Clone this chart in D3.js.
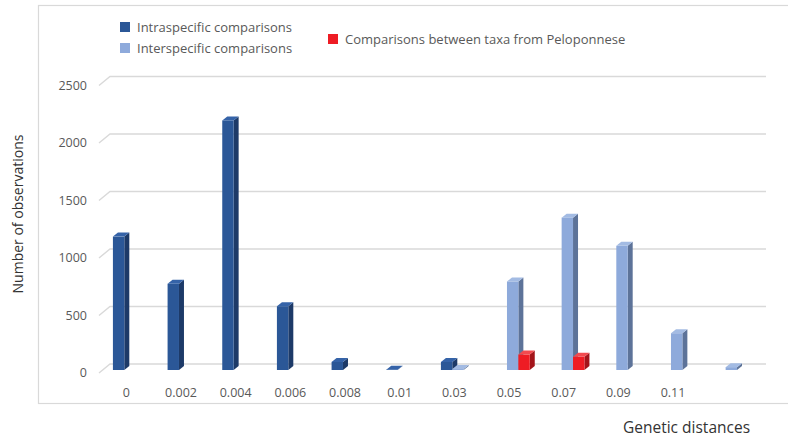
<!DOCTYPE html>
<html>
<head>
<meta charset="utf-8">
<script src="https://cdn.jsdelivr.net/npm/d3@7"></script>
<style>
  html, body { margin: 0; padding: 0; background: #ffffff; }
  svg { display: block; font-family: "Open Sans", "Noto Sans", sans-serif; }
</style>
</head>
<body>
<svg id="chart" width="788" height="438"></svg>
<script>
// Distance classes (last class has no printed label)
const categories = ["0", "0.002", "0.004", "0.006", "0.008", "0.01", "0.03", "0.05", "0.07", "0.09", "0.11", ""];
// Number of observations per class
const intraspecific = [1160, 750, 2170, 555, 70, 3, 70, 0, 0, 0, 0, 0];
const interspecific = [0, 0, 0, 0, 0, 0, 8, 770, 1325, 1080, 320, 25];
const peloponnese   = [0, 0, 0, 0, 0, 0, 0, 135, 115, 0, 0, 0];
const yTicks = [0, 500, 1000, 1500, 2000, 2500];

const seriesNames = ["Intraspecific comparisons", "Interspecific comparisons", "Comparisons between taxa from Peloponnese"];
const series = [
  { name: seriesNames[0], values: intraspecific, front: "#2b5797", side: "#1d3a68", top: "#3563a8" },
  { name: seriesNames[1], values: interspecific, front: "#8eaadb", side: "#5d7399", top: "#a3bbe3" },
  { name: seriesNames[2], values: peloponnese,   front: "#ee1c24", side: "#a3141a", top: "#f24a4f" }
];

const svg = d3.select("#chart");
const textColor = "#595959";
const gridColor = "#d9d9d9";

// Outer chart frame
svg.append("rect")
  .attr("x", 38.5).attr("y", 5.5)
  .attr("width", 800).attr("height", 398)
  .attr("fill", "none").attr("stroke", gridColor).attr("stroke-width", 1.2);

// Oblique projection: depth vector from the front plane to the back wall
const depth = { dx: 11, dy: -9 };
const barDepthFrac = 1 / 3;

// Front-plane scales
const x = d3.scaleBand().domain(d3.range(categories.length)).range([99, 755]).paddingInner(0).paddingOuter(0);
const y = d3.scaleLinear().domain([0, 2500]).range([373, 85.5]);

// Gridlines on the back wall, with the oblique side-wall segment
const grid = svg.append("g");
yTicks.forEach(t => {
  const y0 = y(t);
  grid.append("path")
    .attr("d", `M${x.range()[0]},${y0} L${x.range()[0] + depth.dx},${y0 + depth.dy} L${x.range()[1] + depth.dx},${y0 + depth.dy}`)
    .attr("fill", "none").attr("stroke", gridColor).attr("stroke-width", 1.4);
});

// Value axis labels
svg.append("g").selectAll("text").data(yTicks).join("text")
  .attr("x", 87).attr("y", d => y(d))
  .attr("dy", "0.35em")
  .attr("text-anchor", "end")
  .attr("font-size", 12.5)
  .attr("fill", textColor)
  .text(d => d);

// Category labels
svg.append("g").selectAll("text").data(categories).join("text")
  .attr("x", (d, i) => x(i) + x.bandwidth() / 2)
  .attr("y", 393)
  .attr("dy", "0.35em")
  .attr("text-anchor", "middle")
  .attr("font-size", 12.5)
  .attr("fill", textColor)
  .text(d => d);

// Bars: clustered, drawn at one third of the floor depth
const ox = depth.dx * barDepthFrac, oy = depth.dy * barDepthFrac;
const inner = d3.scaleBand().domain(d3.range(series.length)).range([0, x.bandwidth()]).paddingOuter(0.9).paddingInner(0);
const bw = inner.bandwidth();
const bd = { dx: 5, dy: -4 }; // visible bar depth

const barsG = svg.append("g");
categories.forEach((c, i) => {
  series.forEach((s, k) => {
    const v = s.values[i];
    if (!(v > 0)) return;
    const x0 = x(i) + inner(k) + ox;
    const x1 = x0 + bw;
    const yb = y(0) + oy;
    const yt = y(v) + oy;
    const g = barsG.append("g");
    // side face
    g.append("path")
      .attr("d", `M${x1},${yb} L${x1 + bd.dx},${yb + bd.dy} L${x1 + bd.dx},${yt + bd.dy} L${x1},${yt} Z`)
      .attr("fill", s.side);
    // front face
    g.append("rect")
      .attr("x", x0).attr("y", yt)
      .attr("width", bw).attr("height", Math.max(0, yb - yt))
      .attr("fill", s.front);
    // top face
    g.append("path")
      .attr("d", `M${x0},${yt} L${x0 + bd.dx},${yt + bd.dy} L${x1 + bd.dx},${yt + bd.dy} L${x1},${yt} Z`)
      .attr("fill", s.top);
  });
});

// Legend
const legendItems = [
  { s: series[0], x: 120, y: 27 },
  { s: series[1], x: 120, y: 48 },
  { s: series[2], x: 328, y: 39 }
];
const legend = svg.append("g");
legendItems.forEach(it => {
  legend.append("rect")
    .attr("x", it.x).attr("y", it.y - 5)
    .attr("width", 10).attr("height", 10)
    .attr("fill", it.s.front);
  legend.append("text")
    .attr("x", it.x + 17).attr("y", it.y)
    .attr("dy", "0.35em")
    .attr("font-size", 13)
    .attr("fill", textColor)
    .text(it.s.name);
});

// Axis titles
svg.append("text")
  .attr("transform", "translate(18,214) rotate(-90)")
  .attr("text-anchor", "middle")
  .attr("dy", "0.35em")
  .attr("font-size", 14)
  .attr("fill", "#333333")
  .text("Number of observations");

svg.append("text")
  .attr("x", 623).attr("y", 428)
  .attr("text-anchor", "start")
  .attr("dy", "0.35em")
  .attr("font-size", 15.5)
  .attr("fill", "#333333")
  .text("Genetic distances");
</script>
</body>
</html>
